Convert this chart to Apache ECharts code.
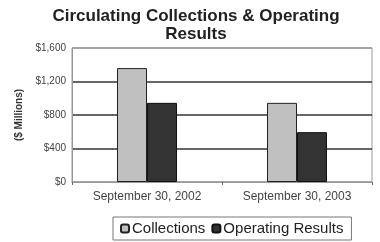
<!DOCTYPE html>
<html>
<head>
<meta charset="utf-8">
<script src="https://cdn.jsdelivr.net/npm/echarts@6/dist/echarts.min.js"></script>
<style>
  html, body { margin: 0; padding: 0; background: #fff; }
  #main { width: 380px; height: 242px; }
</style>
</head>
<body>
<div id="main"></div>
<script>
// 数据
var categories = ['September 30, 2002', 'September 30, 2003'];
var collections = [1360, 945];
var operatingResults = [945, 595];
var yTicks = [0, 400, 800, 1200, 1600];

var chart = echarts.init(document.getElementById('main'));

var option = {
    animation: false,
    textStyle: { fontFamily: 'Liberation Sans, Arial, sans-serif' },
    title: {
        text: 'Circulating Collections & Operating\nResults',
        left: 191,
        textAlign: 'center',
        top: 2,
        textStyle: { fontSize: 17, fontWeight: 'bold', color: '#222', lineHeight: 18 }
    },
    legend: {
        data: ['Collections', 'Operating Results'],
        left: 113,
        top: 217,
        padding: [4, 8, 4, 7],
        borderColor: '#777',
        borderWidth: 1,
        itemWidth: 8,
        itemHeight: 8,
        itemGap: 6,
        textStyle: { fontSize: 15, color: '#222', padding: [0, 0, 0, -2] }
    },
    grid: {
        left: 72, right: 8, top: 48, bottom: 60,
        show: true, borderColor: '#999', borderWidth: 1
    },
    xAxis: {
        type: 'category',
        data: categories,
        axisLine: { lineStyle: { color: '#999' } },
        axisTick: { show: true, length: 3, lineStyle: { color: '#666' } },
        axisLabel: { fontSize: 12, color: '#444', margin: 9 }
    },
    yAxis: {
        type: 'value',
        min: 0,
        max: 1600,
        interval: 400,
        name: '($ Millions)',
        nameLocation: 'middle',
        nameRotate: 90,
        nameGap: 47,
        nameTextStyle: { fontSize: 10, fontWeight: 'bold', color: '#333' },
        axisLine: { show: true, lineStyle: { color: '#999' } },
        axisTick: { show: false },
        axisLabel: {
            fontSize: 10,
            color: '#444',
            margin: 6,
            formatter: function (v) {
                return yTicks.indexOf(v) >= 0 ? '$' + v.toLocaleString('en-US') : '';
            }
        },
        splitLine: {
            lineStyle: { color: ['#999', '#333', '#333', '#333', '#999'], width: 1.5 }
        }
    },
    series: [
        {
            name: 'Collections',
            type: 'bar',
            data: collections,
            barGap: '0%',
            barCategoryGap: '60%',
            itemStyle: { color: '#c0c0c0', borderColor: '#222', borderWidth: 1 }
        },
        {
            name: 'Operating Results',
            type: 'bar',
            data: operatingResults,
            itemStyle: { color: '#333333', borderColor: '#111', borderWidth: 1 }
        }
    ]
};

chart.setOption(option);
</script>
</body>
</html>
